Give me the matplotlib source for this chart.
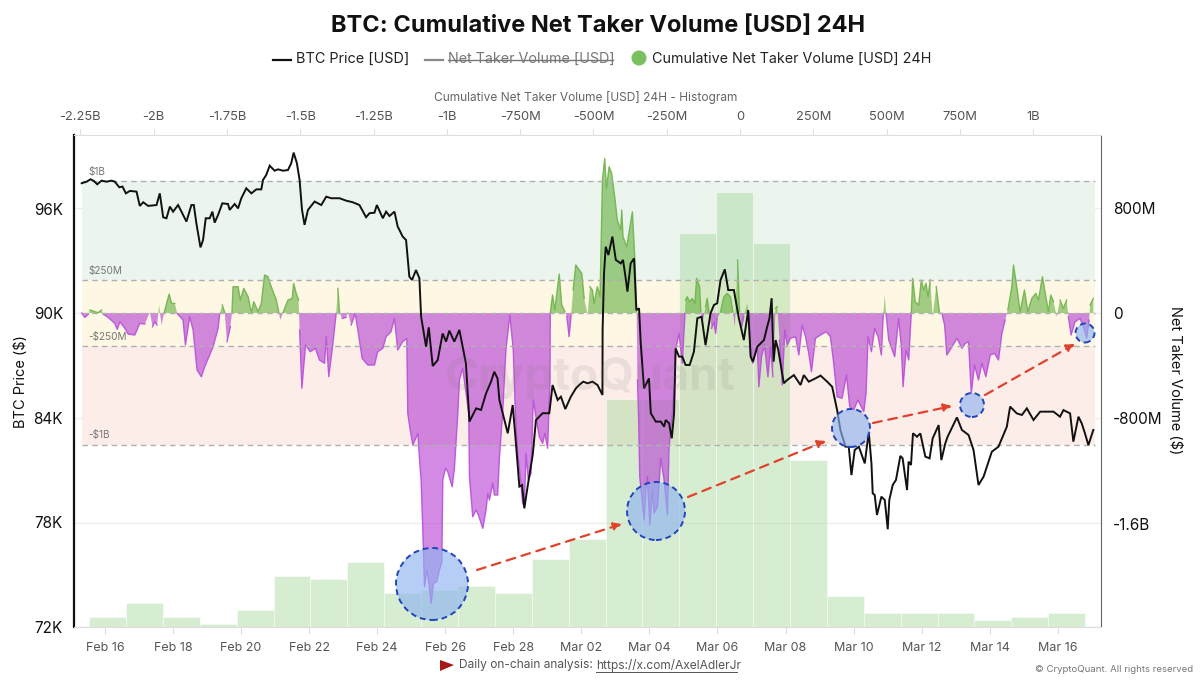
import matplotlib
matplotlib.use("Agg")
import matplotlib.pyplot as plt
import numpy as np
import pandas as pd
from matplotlib.patches import Ellipse, FancyArrowPatch, Polygon
from matplotlib.lines import Line2D

plt.rcParams["font.family"] = ["Inter", "DejaVu Sans"]

BASE = pd.Timestamp("2025-02-16")
W, H = 1200, 680

# hours after Feb 16 00:00 / price in thousand USD
price_hours = [-16.4, -12.9, -10.1, -7.8, -5.4, -2.4, 1.2, 4.7, 7.0, 10.1, 12.4, 14.8, 17.6, 22.3, 24.6, 27.0, 30.5, 36.4, 38.7, 41.1, 43.4, 45.8, 48.1, 51.6, 54.0, 57.5, 61.0, 62.7, 64.5, 67.4, 69.2, 71.1, 73.9, 75.8, 77.4, 79.8, 82.8, 86.8, 88.0, 91.5, 93.9, 96.2, 99.7, 103.3, 106.8, 110.3, 111.5, 113.8, 116.2, 119.7, 122.0, 125.6, 129.1, 131.4, 133.1, 135.4, 137.3, 139.0, 140.8, 143.2, 147.9, 152.6, 156.1, 159.6, 165.5, 170.2, 174.8, 179.5, 184.2, 186.6, 190.1, 191.8, 196.0, 198.3, 200.7, 204.2, 206.5, 207.7, 210.0, 212.4, 214.7, 216.6, 219.4, 221.8,
               223.0, 226.5, 228.4, 231.2, 234.7, 238.2, 240.6, 242.9, 246.4, 250.0, 252.3, 254.6, 257.1, 261.8, 265.3, 268.8, 272.3, 274.6, 276.9, 278.2, 284.1, 287.6, 289.5, 292.3, 294.2, 295.8, 298.1, 301.7, 304.0, 308.7, 313.4, 315.7, 319.3, 321.6, 324.7, 328.6, 332.2, 334.5, 337.3, 340.4, 343.9, 347.4, 350.9,
               351.0, 352.0, 353.2, 355.1, 357.9, 360.3, 363.8, 365.4, 367.3, 368.5, 370.8, 373.2, 374.8, 376.7, 377.9, 380.2, 383.7, 385.0, 388.5, 392.0, 394.4, 395.5, 397.9, 399.8, 401.4, 402.5, 404.9, 407.2, 409.5, 412.4, 415.4, 417.8, 420.8, 423.6, 427.1, 429.5, 431.8, 434.2, 437.2, 439.6, 443.6, 447.1, 450.6, 453.7,
               455.4, 457.0, 460.1, 464.8, 467.1, 468.7, 470.2, 471.6, 473.0, 474.9, 476.5, 478.8, 481.2, 485.9, 490.6, 492.9, 496.4, 501.1, 504.7, 509.4, 512.9, 516.4, 518.7, 522.3, 524.6, 526.5, 528.8, 531.7, 535.9, 538.7, 540.6, 541.5, 542.9, 544.5, 547.6, 550.0, 552.1, 553.2, 555.6, 557.9, 561.0, 562.6, 565.7, 566.8, 568.5, 569.9, 572.7, 575.1, 578.6, 581.6, 583.8, 588.0, 589.9, 592.7, 594.3, 600.9, 604.4, 609.1, 612.6, 616.1, 619.7, 622.0, 625.5, 630.2, 636.1, 638.4, 640.8, 643.1, 646.7, 650.2, 654.9, 659.6, 664.3, 669.0, 673.6, 676.0, 680.7, 683.0, 686.6, 688.9, 691.2, 693.6, 697.1]
price_k = [97.47, 97.56, 97.70, 97.60, 97.41, 97.62, 97.56, 97.62, 97.56, 97.24, 97.28, 96.89, 97.03, 96.99, 96.17, 96.38, 96.17, 96.22, 96.89, 95.52, 95.46, 96.13, 95.84, 96.22, 95.84, 95.27, 96.22, 96.22, 95.17, 93.79, 94.21, 95.46, 95.46, 95.84, 95.21, 95.65, 96.32, 96.28, 95.94, 96.28, 96.03, 96.61, 97.18, 96.89, 97.12, 97.12, 97.66, 97.95, 98.48, 98.19, 98.27, 98.19, 98.23, 98.62, 99.23, 98.62, 97.66, 95.94, 95.08, 95.94, 96.42, 96.22, 96.70, 96.61, 96.61, 96.47, 96.38, 96.22, 95.52, 95.75, 95.78, 96.22, 95.46, 95.84, 95.59, 95.84, 94.98, 94.79, 94.41, 94.21, 92.11, 91.92, 92.49, 92.01,
           89.81, 88.09, 89.20, 86.98, 87.32, 88.85, 88.38, 89.01, 88.38, 89.05, 88.09, 87.13, 83.79, 84.55, 84.46, 85.41, 86.08, 86.65, 86.27, 85.03, 83.12, 84.74, 82.93, 80.06, 80.15, 78.81, 80.06, 81.87, 83.88, 84.27, 84.27, 85.89, 85.03, 85.22, 84.51, 85.22, 85.70, 85.89, 86.08, 85.99, 86.08, 85.89, 85.32,
           89.05, 92.30, 93.83, 93.35, 94.41, 93.07, 92.87, 93.07, 92.01, 91.25, 92.87, 93.16, 90.19, 90.29, 88.28, 85.70, 86.27, 84.27, 83.79, 83.79, 83.50, 83.88, 83.69, 82.83, 84.27, 87.99, 87.52, 87.52, 87.04, 87.04, 87.80, 89.72, 89.81, 88.18, 90.00, 90.48, 90.58, 91.92, 92.53, 91.34, 91.34, 89.72, 88.47, 90.19,
           87.52, 87.23, 88.09, 88.47, 89.24, 89.72, 90.87, 87.23, 88.47, 87.90, 87.13, 85.99, 86.18, 86.46, 85.89, 86.46, 86.08, 86.27, 86.43, 86.08, 85.79, 84.45, 83.31, 82.35, 82.35, 80.72, 82.16, 82.35, 81.39, 83.21, 81.40, 79.67, 79.58, 78.43, 79.48, 79.29, 77.61, 79.29, 80.15, 80.44, 81.82, 81.68, 79.86, 81.49, 81.30, 83.12, 82.92, 83.11, 81.78, 81.68, 82.83, 83.59, 81.58, 82.54, 82.92, 84.03, 83.31, 83.02, 82.16, 80.15, 80.63, 81.20, 82.06, 82.35, 83.50, 84.65, 84.45, 84.26, 84.17, 84.55, 83.88, 84.36, 84.36, 84.36, 84.07, 84.45, 84.26, 82.64, 84.07, 83.69, 83.11, 82.44, 83.31]

# hours after Feb 16 00:00 / cumulative net taker volume in million USD
net_hours = [-16.4, -14.1, -11.7, -10.6, -7.1, -4.7, -2.4, -1.2, 2.3, 7.0, 8.7, 10.6, 14.1, 16.4, 21.1, 24.6, 28.2, 31.7, 33.6, 35.2, 36.8, 38.2, 39.9, 41.8, 45.3, 47.0, 49.3, 51.0, 55.1, 56.8, 59.8, 62.2, 65.0, 68.0, 70.4, 76.3, 79.8, 81.0, 82.8, 84.5, 86.1, 88.5, 89.6, 90.4, 93.9, 95.5, 97.9, 101.0, 103.3, 105.0, 108.0, 110.3, 112.6, 115.0, 117.3, 120.9, 122.7, 123.7, 125.6, 129.1, 132.1, 133.1, 134.9, 136.6, 137.3, 138.9, 141.5, 144.8, 148.5, 151.3, 154.9, 156.1, 157.9, 160.8, 163.1, 164.3, 165.5, 167.3, 170.1, 171.3, 173.7, 176.5, 178.4, 181.4, 185.4, 190.1, 192.4, 196.0, 198.3, 201.8, 204.2, 206.5, 210.0, 212.9,
             213.6, 215.3, 217.2, 220.7, 221.9, 223.0, 224.2, 225.4, 227.0, 228.4, 230.1, 231.7, 234.1, 235.9, 237.6, 238.3, 240.2, 241.8, 244.9, 246.5, 248.9, 250.0, 252.3, 256.6, 257.1, 259.4, 261.8, 263.4, 266.5, 268.8, 270.0, 271.2, 273.5, 274.7, 277.0, 278.2, 280.5, 282.8, 285.6, 288.0, 289.5, 291.1, 293.4, 294.6, 295.8, 297.0, 298.6, 300.5, 302.1, 304.0, 306.4, 308.7, 310.3, 312.2, 313.9, 314.1,
             315.7, 317.3, 320.4, 322.2, 324.4, 325.8, 327.4, 328.8, 330.2, 332.1, 336.3, 338.0, 340.5, 342.0, 343.8, 345.0, 347.3, 349.2, 350.9, 352.5, 353.7, 355.6, 357.4, 359.8, 361.4, 363.8, 364.5, 365.4, 368.0, 372.0, 373.9, 375.0,
             375.6, 376.3, 377.2, 380.3, 381.5, 382.6, 384.3, 386.2, 387.3, 389.7, 392.0, 394.4, 396.7, 397.9, 400.2, 402.0, 402.5, 404.9, 407.2, 409.1, 409.5, 410.7, 412.4, 414.2, 416.1, 417.3, 419.4, 420.3, 421.7, 423.6, 424.8, 426.0, 427.9, 429.5, 430.7, 431.8, 434.2, 436.5, 438.9, 441.2, 442.9, 444.3, 446.2, 447.6, 449.0, 450.6, 453.0, 454.1,
             455.4, 457.0, 460.1, 461.2, 463.1, 465.2, 467.6, 469.5, 471.1, 473.0, 474.1, 475.8, 477.7, 479.5, 481.2, 483.5, 487.1, 489.4, 491.8, 494.1, 496.4, 498.3, 501.1, 504.7, 508.7, 511.7, 514.0, 516.4, 519.9, 523.0, 525.3, 528.1, 531.0, 535.2, 536.8, 538.2, 540.6, 542.9, 545.3, 547.6, 549.0, 550.0, 550.9, 552.8, 557.0, 559.8, 561.7, 562.9, 565.0, 566.9, 568.7, 569.7, 571.5, 573.9, 575.8, 577.4, 579.1, 580.5, 582.1, 583.8, 586.3, 588.5, 590.3, 592.2, 593.8, 597.4, 600.9, 604.4, 606.8, 609.1, 611.0, 613.3, 616.1, 618.5, 621.3, 624.4, 627.4, 630.2, 632.6, 634.9, 636.8, 639.6, 640.8, 643.1, 645.5, 648.5, 650.9, 653.7, 656.5, 658.4, 661.2, 663.6, 665.4, 667.1, 669.0, 671.3, 673.6, 676.0, 678.3, 679.5, 681.4, 684.2, 687.7, 690.1, 692.4, 694.1, 694.8, 697.1]
net_m = [0, -33, -8, 23, 10, 3, 23, -8, -33, -79, -124, -66, -117, -160, -167, -79, -84, 10, -104, -66, -91, 61, -91, 3, 144, 73, 73, -3, -53, -243, -28, -129, -433, -484, -408, -256, -117, -3, 61, 3, -218, -104, 3, 200, 200, 99, 187, 124, 3, 86, 10, 73, 289, 276, 200, 99, 3, -53, 3, 99, 111, 225, 149, 99, -129, -572, -243, -294, -268, -357, -382, -180, -484, -230, -3, 187, 3, -41, -33, 10, -91, -3, -129, -344, -395, -395, -294, -268, -180, -142, -41, -281, -218, -192,
         -762, -889, -1003, -914, -1117, -1269, -1649, -2080, -1953, -2041, -2206, -2054, -2041, -1953, -1890, -1269, -1180, -1206, -1320, -1180, -762, -509, -420, -762, -1244, -1548, -1497, -1535, -1636, -1497, -1370, -1421, -1294, -1383, -1383, -1104, -762, -281, -15, -281, -762, -1066, -1294, -1446, -1472, -1066, -1269, -1218, -661, -788, -940, -990, -914, -1028, -509, 0,
         137, 23, 296, 61, 10, -28, -180, -15, 175, 365, 301, 111, -15, 200, 175, 73, 200, 124, 1011, 1175, 947, 1112, 1061, 859, 707, 631, 783, 580, 504, 770, 377, 10,
         -509, -762, -1244, -1573, -1345, -1244, -1611, -1345, -1522, -1472, -1104, -1269, -1535, -1016, -762, -509, -281, -155, -382, -3, 99, 124, 86, 111, 73, 263, 200, 10, -66, 48, 111, 10, -117, -66, -155, -41, 10, 124, 149, 124, 10, -104, 403, 10, -104, -28, 73, -3,
         -332, -382, -256, -560, -332, -243, -484, -256, -484, 35, 48, -205, -547, -129, -243, -192, -180, -319, -91, -180, -306, -446, -192, -167, -142, -180, -382, -636, -648, -471, -712, -737, -661, -750, -610, -180, -294, -117, -180, -319, -3, 137, -3, -205, -332, -41, -256, -560, -281, -357, 0, 263, 86, 61, 251, 175, 225, 124, 251, -28, 200, 10, -3, -91, -319, -256, -192, -268, -230, -218, -610, -395, -509, -382, -484, -319, -306, -357, -155, -53, 23, 200, 365, 200, 10, 175, 10, 111, 149, 99, 276, 124, 10, 137, 86, -28, 99, 35, 99, -28, -167, -66, -41, -104, -192, -53, 61, 111]

# histogram of the cumulative net taker volume
hist_start_m = -2220
hist_bin_m = 125.8
hist_counts = [3, 7, 3, 1, 5, 15, 14, 19, 10, 11, 12, 10, 20, 26, 67, 67, 116, 128, 113, 49, 9, 4, 4, 4, 2, 3, 4]

price_ticks = [72, 78, 84, 90, 96]
net_ticks = [-1600, -800, 0, 800]
net_tick_labels = ["-1.6B", "-800M", "0", "800M"]
hist_ticks = [-2250, -2000, -1750, -1500, -1250, -1000, -750, -500, -250, 0, 250, 500, 750, 1000]
hist_tick_labels = ["-2.25B", "-2B", "-1.75B", "-1.5B", "-1.25B", "-1B", "-750M", "-500M", "-250M", "0", "250M", "500M", "750M", "1B"]
zone_levels = [1000, 250, -250, -1000]
zone_labels = ["$1B", "$250M", "-$250M", "-$1B"]


def to_time(hours):
    return BASE + pd.to_timedelta(np.array(hours, dtype=float), unit="h")


def fx(x):
    return x / W


def fy(y):
    return 1 - y / H


price_t = to_time(price_hours)
net_t = to_time(net_hours)
net_v = np.array(net_m, dtype=float)
t0, t1 = net_t[0], to_time([698.5])[0]

xlim = (to_time([-21.8])[0], to_time([702.5])[0])
net_lim = (-2386, 1353)
rect = [fx(74), fy(627), fx(1101 - 74), (627 - 135) / H]

fig = plt.figure(figsize=(12, 6.8), dpi=100, facecolor="white")

# zones -> histogram -> net taker -> price
ax_zone = fig.add_axes(rect, zorder=0)
ax_hist = fig.add_axes(rect, zorder=1)
ax_net = fig.add_axes(rect, zorder=2)
ax_price = fig.add_axes(rect, zorder=3)
for ax in (ax_hist, ax_net, ax_price):
    ax.patch.set_alpha(0)

ax_zone.set_xlim(xlim)
ax_zone.set_ylim(net_lim)
ax_zone.fill_between([t0, t1], 250, 1000, color="#ebf5ee", lw=0)
ax_zone.fill_between([t0, t1], -250, 250, color="#fdf7e4", lw=0)
ax_zone.fill_between([t0, t1], -1000, -250, color="#fcede8", lw=0)
for v in price_ticks:
    # faint gridlines sit on the price scale
    ax_zone.axhline((v - 90) / 6 * 796, color="#eeeeee", lw=1, zorder=0.5)
ax_zone.axis("off")

lefts = hist_start_m + hist_bin_m * np.arange(len(hist_counts))
ax_hist.bar(lefts, hist_counts, width=hist_bin_m, align="edge", color="#a6d89c", alpha=0.45, edgecolor="white", linewidth=0.8)
ax_hist.set_xlim(-2271.5, 1231)
ax_hist.set_ylim(0, 144.7)
ax_hist.xaxis.tick_top()
ax_hist.set_xticks(hist_ticks)
ax_hist.set_xticklabels(hist_tick_labels, fontsize=9.3, color="#555555")
ax_hist.tick_params(axis="x", length=4, color="#dddddd", pad=5)
ax_hist.set_yticks([])
for s in ax_hist.spines.values():
    s.set_visible(False)

ax_net.set_xlim(xlim)
ax_net.set_ylim(net_lim)
ax_net.fill_between(net_t, net_v, 0, where=net_v >= 0, interpolate=True, color="#64b040", alpha=0.6, lw=0)
ax_net.fill_between(net_t, net_v, 0, where=net_v <= 0, interpolate=True, color="#b43cd2", alpha=0.6, lw=0)
ax_net.plot(net_t, np.where(net_v >= 0, net_v, np.nan), color="#6fb34c", lw=1, alpha=0.9)
ax_net.plot(net_t, np.where(net_v <= 0, net_v, np.nan), color="#b84fd8", lw=1, alpha=0.9)
for level, label in zip(zone_levels, zone_labels):
    ax_net.plot([t0, t1], [level, level], color="#b0b0b0", lw=1, dashes=(4, 3))
    ax_net.annotate(label, (t0, level), xytext=(5, 3), textcoords="offset points", fontsize=7.2, color="#777777", va="bottom")
ax_net.plot([t0, t1], [0, 0], color="#b0b0b0", lw=1, dashes=(4, 3))
ax_net.yaxis.tick_right()
ax_net.set_yticks(net_ticks)
ax_net.set_yticklabels(net_tick_labels, fontsize=11, color="#111111")
ax_net.tick_params(axis="y", length=0, pad=8.5)
ax_net.set_xticks([])
for s in ax_net.spines.values():
    s.set_visible(False)

ax_price.plot(price_t, price_k, color="#111111", lw=1.4, solid_joinstyle="miter")
ax_price.set_xlim(xlim)
ax_price.set_ylim(72, 100.24)
ax_price.set_yticks(price_ticks)
ax_price.set_yticklabels([f"{v}K" for v in price_ticks], fontsize=11, color="#111111")
ax_price.tick_params(axis="y", length=0, pad=8)
date_ticks = pd.date_range("2025-02-16", "2025-03-16", freq="2D")
ax_price.set_xticks(date_ticks)
ax_price.set_xticklabels([d.strftime("%b %d") for d in date_ticks], fontsize=9, color="#555555")
ax_price.tick_params(axis="x", length=5, color="#dddddd", pad=5.5)
ax_price.spines["left"].set_color("#111111")
ax_price.spines["left"].set_linewidth(1.6)
ax_price.spines["right"].set_color("#666666")
ax_price.spines["top"].set_color("#dddddd")
ax_price.spines["bottom"].set_color("#dddddd")

# text around the plot
fig.text(fx(598), fy(26), "BTC: Cumulative Net Taker Volume [USD] 24H", fontsize=17, fontweight="bold", ha="center", va="center", color="#111111")
fig.add_artist(Line2D([fx(273), fx(291)], [fy(60), fy(60)], color="#111111", lw=1.6))
fig.text(fx(296), fy(59), "BTC Price [USD]", fontsize=10.4, va="center", color="#222222")
fig.add_artist(Line2D([fx(425), fx(443)], [fy(60), fy(60)], color="#888888", lw=1.6))
fig.text(fx(448), fy(59), "Net Taker Volume [USD]", fontsize=10.3, va="center", color="#777777")
fig.add_artist(Line2D([fx(448), fx(613)], [fy(60), fy(60)], color="#777777", lw=1))
fig.add_artist(Ellipse((fx(639), fy(58)), 15 / W, 15 / H, color="#78c060", lw=0))
fig.text(fx(652), fy(59), "Cumulative Net Taker Volume [USD] 24H", fontsize=10.3, va="center", color="#222222")
fig.text(fx(586), fy(97), "Cumulative Net Taker Volume [USD] 24H - Histogram", fontsize=8.6, ha="center", va="center", color="#666666")
fig.text(fx(21), fy(381), "BTC Price ($)", fontsize=10.5, rotation=90, ha="center", va="center", color="#111111")
fig.text(fx(1175), fy(380), "Net Taker Volume ($)", fontsize=10.5, rotation=270, ha="center", va="center", color="#111111")
fig.text(fx(590), fy(378), "CryptoQuant", fontsize=33, fontweight="bold", ha="center", va="center", color="#777777", alpha=0.12, zorder=4)

# footer
fig.add_artist(Polygon([(fx(440), fy(660)), (fx(454), fy(665)), (fx(440), fy(671))], closed=True, color="#a81818", lw=0))
fig.text(fx(459), fy(665), "Daily on-chain analysis:", fontsize=8.6, va="center", color="#555555")
fig.text(fx(596), fy(665), "https://x.com/AxelAdlerJr", fontsize=8.6, va="center", color="#555555")
fig.add_artist(Line2D([fx(596), fx(737)], [fy(672), fy(672)], color="#555555", lw=0.7))
fig.text(fx(1193), fy(669), "© CryptoQuant. All rights reserved", fontsize=6.9, ha="right", va="center", color="#777777")

# blue circles and red arrows drawn on the picture
for cx, cy, r in [(432, 584, 36), (656, 511, 29), (851, 428, 19), (972, 405, 12), (1085, 333, 9.5)]:
    fig.add_artist(Ellipse((fx(cx), fy(cy)), 2 * r / W, 2 * r / H, facecolor="#8fb4f0", alpha=0.65, edgecolor="none", zorder=5))
    fig.add_artist(Ellipse((fx(cx), fy(cy)), 2 * r / W, 2 * r / H, facecolor="none", edgecolor="#2244bb", lw=1.4, ls=(0, (3, 2)), zorder=6))
for x0, y0, x1, y1 in [(477, 570, 622, 524), (688, 497, 826, 441), (873, 423, 952, 406), (985, 395, 1075, 344)]:
    fig.add_artist(FancyArrowPatch((fx(x0), fy(y0)), (fx(x1), fy(y1)), transform=fig.transFigure, arrowstyle="-|>", mutation_scale=12,
                                   color="#e2412c", lw=1.6, ls=(0, (4, 3)), shrinkA=0, shrinkB=0, zorder=6))

fig.savefig("out.png", dpi=100)
